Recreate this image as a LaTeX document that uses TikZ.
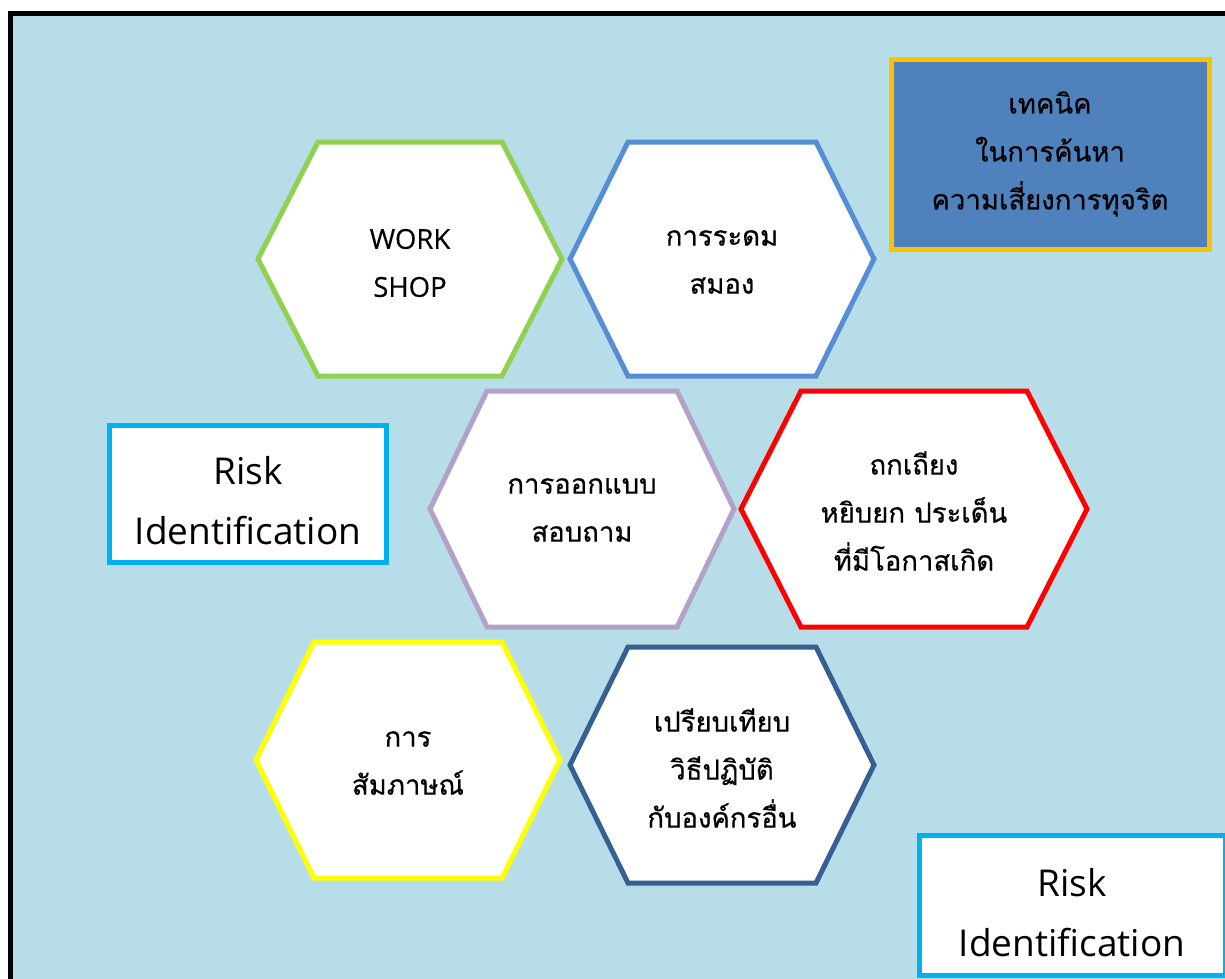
\documentclass[tikz,border=0pt]{standalone}
\usepackage{fontspec}
\newfontfamily\thaifont[Script=Thai,FakeBold=0.5]{Loma}
\newfontfamily\latinfont{Open Sans}
\newfontfamily\wsfont[FakeBold=0.3]{Open Sans}
\definecolor{bgblue}{HTML}{B7DDE8}
\definecolor{hgreen}{HTML}{92D050}
\definecolor{hblue}{HTML}{558ED5}
\definecolor{hlav}{HTML}{B3A2C7}
\definecolor{hred}{HTML}{FF0000}
\definecolor{hyel}{HTML}{FFFF00}
\definecolor{hdark}{HTML}{376092}
\definecolor{boxblue}{HTML}{4F81BD}
\definecolor{gold}{HTML}{FFC000}
\definecolor{cyanb}{HTML}{00B0F0}
\tikzset{
  hexline/.style={line width=5pt, fill=white, line join=miter},
  hextext/.style={align=center, font=\thaifont\fontsize{27.5}{48}\selectfont, text=black},
  wstext/.style={align=center, font=\wsfont\fontsize{27.5}{48}\selectfont, text=black},
  risktext/.style={align=center, font=\latinfont\fontsize{37}{60}\selectfont, text=black},
  riskbox/.style={draw=cyanb, fill=white, line width=5pt, inner sep=0pt},
}
% \hexagon{cx}{cy}{half width}{half top width}{half height}{colour}
\newcommand{\hexagon}[6]{%
  \draw[hexline, draw=#6] (#1-#3,#2) -- (#1-#4,#2-#5) -- (#1+#4,#2-#5) -- (#1+#3,#2) -- (#1+#4,#2+#5) -- (#1-#4,#2+#5) -- cycle;}
\begin{document}
\begin{tikzpicture}[x=1pt,y=-1pt]
\useasboundingbox (0,0) rectangle (1225,978);
\clip (0,0) rectangle (1225,978);
\fill[white] (0,0) rectangle (1225,978);
\draw[line width=5pt, fill=bgblue] (10,13) rectangle (1260,1010);
% hexagons
\hexagon{410}{259}{152}{92}{117}{hgreen}
\hexagon{722}{259}{152}{94}{117}{hblue}
\hexagon{582}{509}{152}{95}{118}{hlav}
\hexagon{914}{509}{173}{113}{118}{hred}
\hexagon{408}{760}{152}{94}{118}{hyel}
\hexagon{722}{765}{152}{94}{118}{hdark}
\node[wstext] (ws) at (410,263) {WORK\\SHOP};
\node[hextext] (brain) at (722,262) {การระดม\\สมอง};
\node[hextext] (quest) at (582,510) {การออกแบบ\\สอบถาม};
\node[hextext] (debate) at (914,511) {ถกเถียง\\หยิบยก ประเด็น\\ที่มีโอกาสเกิด};
\node[hextext] (interview) at (408,763) {การ\\สัมภาษณ์};
\node[hextext] (compare) at (722,768) {เปรียบเทียบ\\วิธีปฏิบัติ\\กับองค์กรอื่น};
% boxes
\node[draw=gold, fill=boxblue, line width=5pt, minimum width=318pt, minimum height=190pt, inner sep=0pt, hextext] (title) at (1050,154) {เทคนิค\\ในการค้นหา\\ความเสี่ยงการทุจริต};
\node[riskbox, minimum width=277pt, minimum height=137pt] (risk1) at (247.5,493.5) {};
\node[risktext] (risk1text) at (248,501) {Risk\\Identification};
\node[riskbox, minimum width=306pt, minimum height=140pt] (risk2) at (1072,905) {};
\node[risktext] (risk2text) at (1072,913) {Risk\\Identification};
\end{tikzpicture}
\end{document}
